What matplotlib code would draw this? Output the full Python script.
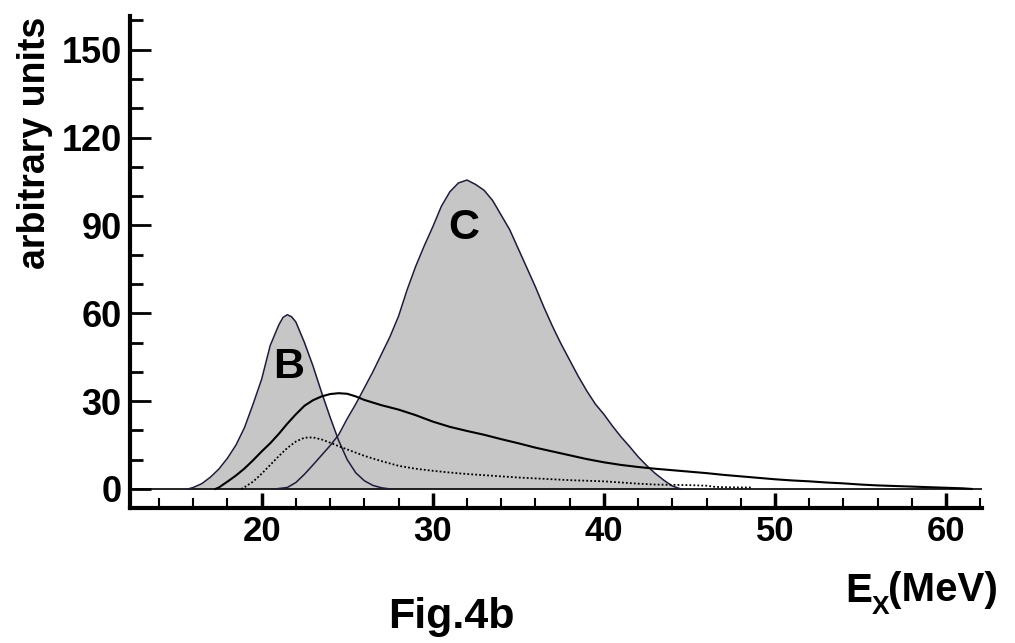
import matplotlib.pyplot as plt
from matplotlib.ticker import MultipleLocator

plt.rcParams['font.family'] = ['Liberation Sans', 'DejaVu Sans']

# peak B (filled)
b_x = [15.7, 16, 16.5, 17, 17.5, 18, 18.5, 19, 19.5, 20, 20.5, 21, 21.25, 21.5,
       21.75, 22, 22.5, 23, 23.5, 24, 24.5, 25, 25.5, 26, 26.5, 27, 27.5]
b_y = [0, 0.5, 1.8, 4, 6.8, 10.5, 15, 21, 29, 37.5, 49, 56, 58.6, 59.5,
       58.8, 57, 50, 42, 33, 24.5, 16.5, 10, 5.5, 2.8, 1.2, 0.4, 0]

# peak C (filled)
c_x = [20.8, 21.5, 22, 22.5, 23, 23.5, 24, 24.5, 25, 25.5, 26, 26.5, 27,
       27.5, 28, 28.5, 29, 29.5, 30, 30.5, 31, 31.5, 32, 32.5, 33, 33.5,
       34, 34.5, 35, 35.5, 36, 36.5, 37, 37.5, 38, 38.5, 39, 39.5, 40,
       40.5, 41, 41.5, 42, 42.5, 43, 43.5, 44, 44.5]
c_y = [0, 0.5, 2.2, 5, 8.2, 11.5, 14.8, 18.5, 24, 29, 34.5, 40, 46,
       52, 59, 68, 76, 83, 89.5, 96.5, 101.5, 104.5, 105.5, 104, 102, 98.5,
       93.5, 88.5, 82, 75.5, 69, 62, 55.5, 49.5, 44, 38.5, 33.5, 29, 25.5,
       21.5, 17.8, 14.5, 11, 8, 5.3, 3, 1, 0]

# broad component (thick solid)
s_x = [17.3, 17.5, 18, 18.5, 19, 19.5, 20, 20.5, 21, 21.5, 22, 22.5, 23,
       23.5, 24, 24.5, 25, 25.5, 26, 27, 28, 29, 30, 31, 32, 33, 34, 35,
       36, 37, 38, 39, 40, 41, 42, 43, 44, 45, 46, 47, 48, 49, 50, 51, 52,
       53, 54, 55, 56, 57, 58, 59, 60, 61, 61.5]
s_y = [0, 0.5, 2.5, 4.6, 7, 9.8, 12.8, 15.6, 18.8, 22.3, 25.5, 28.4, 30.3,
       31.6, 32.4, 32.7, 32.5, 31.6, 30.4, 28.6, 27.1, 25.2, 23, 21.2, 19.8,
       18.5, 17, 15.6, 14.1, 12.8, 11.5, 10.2, 9.1, 8.2, 7.5, 6.9, 6.4, 5.9,
       5.4, 4.8, 4.3, 3.8, 3.3, 2.9, 2.6, 2.2, 1.9, 1.5, 1.2, 1.0, 0.8, 0.6,
       0.4, 0.2, 0]

# second broad component (dotted)
d_x = [18.8, 19, 19.5, 20, 20.5, 21, 21.5, 22, 22.5, 23, 23.5, 24, 24.5,
       25, 25.5, 26, 27, 28, 29, 30, 31, 32, 33, 34, 35, 36, 37, 38, 39,
       40, 41, 42, 43, 44, 45, 46, 46.5, 47, 48, 48.6]
d_y = [0, 0.6, 2.5, 5.2, 8.2, 11.2, 14, 16.2, 17.5, 17.6, 16.9, 15.8, 14.6,
       13.5, 12.4, 11.3, 9.5, 7.9, 6.9, 6.2, 5.6, 5.1, 4.7, 4.3, 3.9, 3.6,
       3.3, 3.0, 2.8, 2.6, 2.2, 1.8, 1.5, 1.4, 1.3, 1.1, 0.7, 0.6, 0.5, 0.5]

x_major = [20, 30, 40, 50, 60]
y_major = [0, 30, 60, 90, 120, 150]

fig = plt.figure(figsize=(10.15, 6.43), dpi=100, facecolor='white')
ax = fig.add_axes([0.128, 0.21, 0.8395, 0.765])
ax.set_facecolor('white')

fill_col = '#c6c6c6'
edge_col = '#1c1c3a'
ax.fill_between(b_x, b_y, 0, color=fill_col, lw=0, zorder=1)
ax.fill_between(c_x, c_y, 0, color=fill_col, lw=0, zorder=1)
ax.plot(b_x, b_y, color=edge_col, lw=1.1, zorder=3)
ax.plot(c_x, c_y, color=edge_col, lw=1.1, zorder=3)
ax.plot(s_x, s_y, color='black', lw=1.5, zorder=4)
ax.plot(d_x, d_y, color='black', lw=1.3, ls=(0, (1, 1.2)), zorder=4)
ax.axhline(0, color='black', lw=1.2, zorder=2)

ax.text(21.55, 41.5, 'B', fontsize=31, fontweight='bold', ha='center', va='center', zorder=5)
ax.text(31.8, 89, 'C', fontsize=31, fontweight='bold', ha='center', va='center', zorder=5)

ax.set_xlim(12.3, 62.1)
ax.set_ylim(-6.5, 161.5)

for s in ['top', 'right']:
    ax.spines[s].set_visible(False)
ax.spines['left'].set_linewidth(3)
ax.spines['bottom'].set_linewidth(3)

ax.set_xticks(x_major)
ax.set_xticklabels([str(v) for v in x_major], fontsize=25, fontweight='bold')
ax.xaxis.set_minor_locator(MultipleLocator(2))
ax.set_yticks(y_major)
ax.set_yticklabels([str(v) for v in y_major], fontsize=26, fontweight='bold')
ax.yaxis.set_minor_locator(MultipleLocator(10))

ax.tick_params(axis='x', which='major', direction='in', length=11, width=2.5, pad=5)
ax.tick_params(axis='x', which='minor', direction='in', length=7, width=1.5)
ax.tick_params(axis='y', which='major', direction='in', length=15, width=2, pad=6)
ax.tick_params(axis='y', which='minor', direction='in', length=9, width=2)

fig.text(0.034, 0.778, 'arbitrary units', rotation=90, fontsize=27,
         fontweight='bold', ha='center', va='center')
fig.text(0.8325, 0.064, 'E', fontsize=29, fontweight='bold', ha='left', va='baseline')
fig.text(0.859, 0.045, 'X', fontsize=19, fontweight='bold', ha='left', va='baseline')
fig.text(0.875, 0.066, '(MeV)', fontsize=29, fontweight='bold', ha='left', va='baseline')
fig.text(0.445, 0.024, 'Fig.4b', fontsize=31, fontweight='bold', ha='center', va='baseline')

fig.savefig('out.png', dpi=100, facecolor='white')
